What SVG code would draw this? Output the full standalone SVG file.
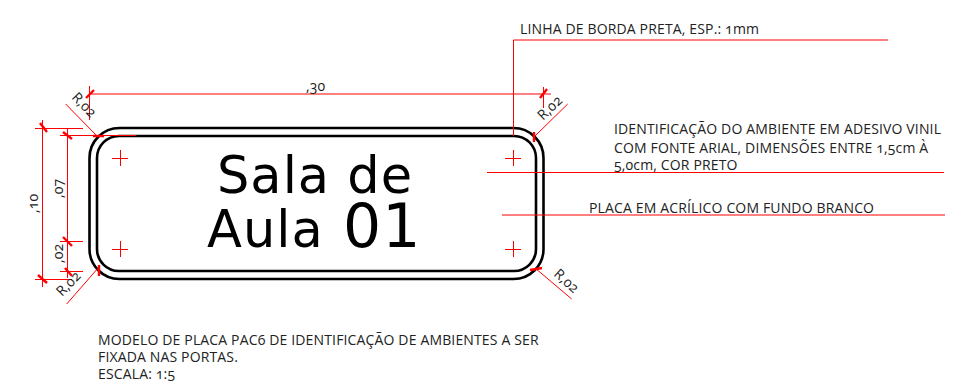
<svg xmlns="http://www.w3.org/2000/svg" width="954" height="388" viewBox="0 0 954 388">
<style>
.r{stroke:#ff0000;stroke-width:1;fill:none}
.t{stroke:#ff0000;stroke-width:2.4;fill:none}
.b{stroke:#000;stroke-width:2.6;fill:none}
text{font-family:"Open Sans","Lato","Liberation Sans",sans-serif;fill:#222;font-size:14px;letter-spacing:.15px;font-variant-numeric:oldstyle-nums;font-feature-settings:"onum"}
.big{font-family:"DejaVu Sans",sans-serif;fill:#000;font-size:51px;letter-spacing:1px;font-variant-numeric:normal;font-feature-settings:normal}
</style>
<rect width="954" height="388" fill="#fff"/>
<g id="placa">
<rect class="b" x="89.5" y="128" width="454" height="151" rx="30"/>
<rect class="b" x="97" y="136" width="439" height="135" rx="22"/>
<text class="big" x="217" y="193">Sala de</text>
<text class="big" x="207" y="247">Aula</text>
<text class="big" x="343" y="247" style="font-size:60px;letter-spacing:1px">01</text>
</g>
<g id="connectors">
<path class="r" d="M112 158.500H128M120.500 150V166M505 158.500H521M513.500 150V166M112 249.500H128M120.500 241V257M505 249.500H521M513.500 241V257"/>
<path class="r" d="M89.500 94H551M89.500 86V120M543.500 87V108"/>
<path class="r" d="M35 128.500H83M60 135.500H136M42.500 120V287M67.500 128V278M60 241.500H83M60 271.500H83M35 279.500H72"/>
<path class="r" d="M65.700 104L97 136M66.700 304L99 267M567.700 104L534 137M571.700 299L535 268"/>
<path class="r" d="M513.500 136V40H888M487 172.500H944M502 215H945"/>
<path class="t" d="M86 98L94 90M40 123L47 132M63 132L72 139M63 237L72 246M65 268L72 276M38 275L47 283M93 136H104M99 265V276M534 132V142M540 98L547 89M530 270L542 268"/>
</g>
<g id="labels">
<text x="520" y="34">LINHA DE BORDA PRETA, ESP.: 1mm</text>
<text x="614" y="134">IDENTIFICAÇÃO DO AMBIENTE EM ADESIVO VINIL</text>
<text x="614" y="153">COM FONTE ARIAL, DIMENSÕES ENTRE 1,5cm À</text>
<text x="614" y="170">5,0cm, COR PRETO</text>
<text x="589" y="213">PLACA EM ACRÍLICO COM FUNDO BRANCO</text>
<text x="98" y="345">MODELO DE PLACA PAC6 DE IDENTIFICAÇÃO DE AMBIENTES A SER</text>
<text x="98" y="362">FIXADA NAS PORTAS.</text>
<text x="98" y="379">ESCALA: 1:5</text>
<text x="306" y="91">,30</text>
<text transform="translate(38 213) rotate(-90)">,10</text>
<text transform="translate(63 198) rotate(-90)">,07</text>
<text transform="translate(63 263) rotate(-90)">,02</text>
<text transform="translate(71 98) rotate(46)">R,02</text>
<text transform="translate(62 297) rotate(-46)">R,02</text>
<text transform="translate(543 121) rotate(-44)">R,02</text>
<text transform="translate(553 275) rotate(42)">R,02</text>
</g>
</svg>
